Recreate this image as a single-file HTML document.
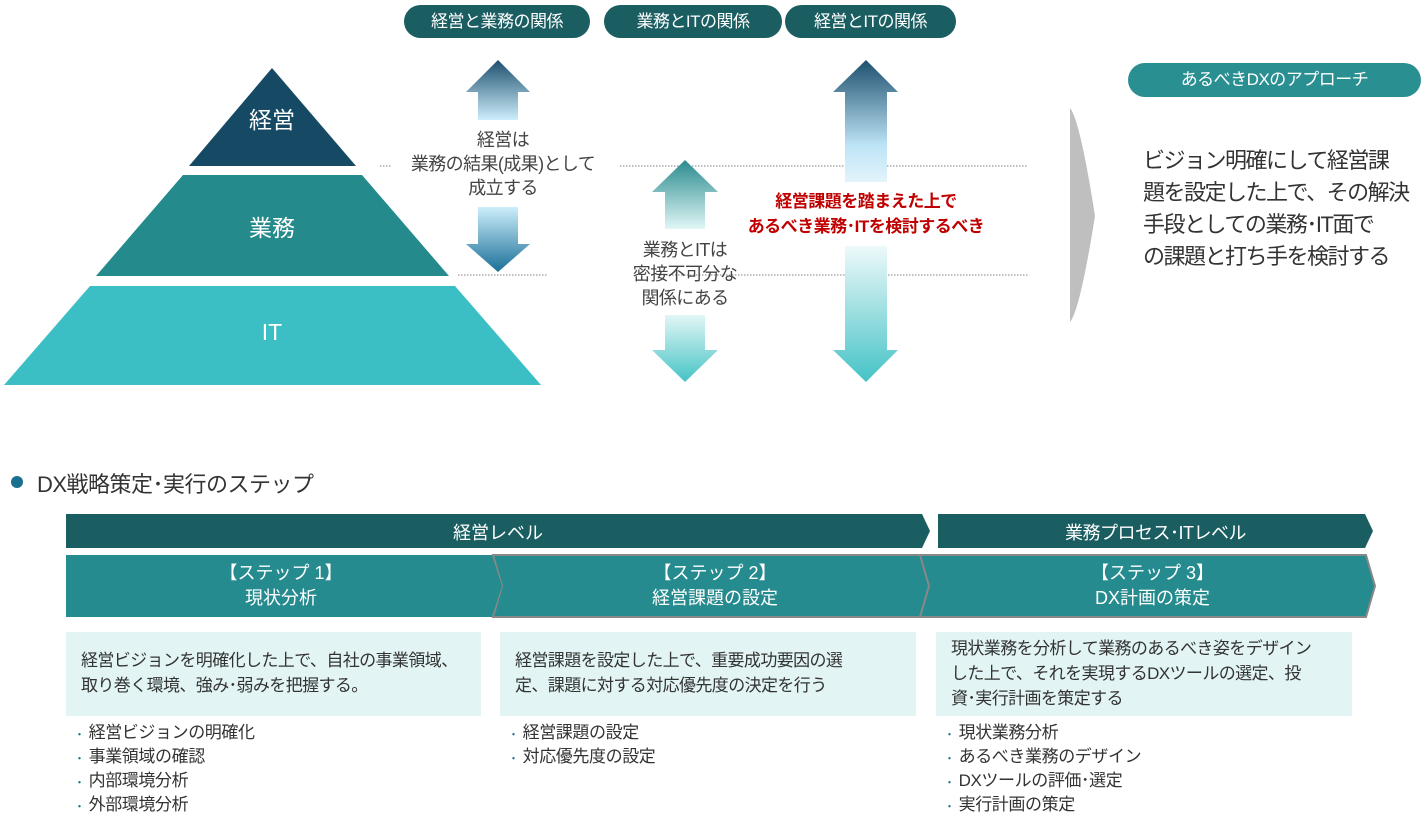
<!DOCTYPE html>
<html><head><meta charset="utf-8"><style>
body{margin:0;width:1425px;height:818px;background:#fff;position:relative;overflow:hidden;font-family:"Liberation Sans","Noto Sans CJK JP",sans-serif;color:#333}
.a{position:absolute;white-space:nowrap}
.pill{position:absolute;background:#1b5e62;color:#fff;border-radius:17px;text-align:center;font-size:17px;letter-spacing:-0.5px}
.box{position:absolute;background:#e2f5f4;font-size:17px;line-height:25px;color:#333;letter-spacing:-0.6px;white-space:nowrap}
ul{position:absolute;margin:0;padding:0;list-style:none;font-size:17px;line-height:24px;letter-spacing:-0.4px}
li{height:24px;overflow:visible}
li:before{content:"・";color:#1a6e8f;font-size:11px;margin-right:4px;margin-left:-2px}
</style></head><body>
<svg width="1425" height="818" style="position:absolute;left:0;top:0">
<defs>
<linearGradient id="g1" x1="0" y1="0" x2="0" y2="1"><stop offset="0" stop-color="#1d4f6e"/><stop offset="1" stop-color="#cdeefb"/></linearGradient>
<linearGradient id="g1d" x1="0" y1="0" x2="0" y2="1"><stop offset="0" stop-color="#cdeefb"/><stop offset="1" stop-color="#1a6f98"/></linearGradient>
<linearGradient id="g2" x1="0" y1="0" x2="0" y2="1"><stop offset="0" stop-color="#2a8b8e"/><stop offset="1" stop-color="#e2f6f6"/></linearGradient>
<linearGradient id="g2d" x1="0" y1="0" x2="0" y2="1"><stop offset="0" stop-color="#e2f6f6"/><stop offset="1" stop-color="#45c3c6"/></linearGradient>
<linearGradient id="g3" x1="0" y1="0" x2="0" y2="1"><stop offset="0" stop-color="#1d4f6e"/><stop offset="0.7" stop-color="#bde4f6"/><stop offset="1" stop-color="#e3f3fb"/></linearGradient>
<linearGradient id="g3d" x1="0" y1="0" x2="0" y2="1"><stop offset="0" stop-color="#eef9fa"/><stop offset="1" stop-color="#45c3c6"/></linearGradient>
</defs>
<polygon points="272,68 356,166 189,166" fill="#164a64"/>
<polygon points="183,175 362,175 449,276 96,276" fill="#248a8c"/>
<polygon points="90,286 455,286 541,385 4,385" fill="#3bbfc5"/>
<g stroke="#999" stroke-width="1.3" stroke-dasharray="1.5,1.5">
<line x1="380" y1="166" x2="392" y2="166"/><line x1="620" y1="166" x2="1028" y2="166"/>
<line x1="458" y1="275" x2="548" y2="275"/><line x1="660" y1="275" x2="1028" y2="275"/>
</g>
<polygon points="498,60 530,92 518,92 518,120 478,120 478,92 466,92" fill="url(#g1)"/>
<polygon points="478,207 518,207 518,244 530,244 498,272 466,244 478,244" fill="url(#g1d)"/>
<polygon points="685,160 718,192 705,192 705,229 665,229 665,192 652,192" fill="url(#g2)"/>
<polygon points="665,315 705,315 705,350 718,350 685,382 652,350 665,350" fill="url(#g2d)"/>
<polygon points="866,60 898,92 887,92 887,182 845,182 845,92 833,92" fill="url(#g3)"/>
<polygon points="845,246 887,246 887,350 898,350 866,382 833,350 845,350" fill="url(#g3d)"/>
<path d="M1070,108 Q1080,120 1095,216 Q1080,310 1070,322 Z" fill="#bfbfbf"/>
<circle cx="17" cy="482" r="6" fill="#1a6e8f"/>
<polygon points="66,514 922,514 930,531 922,548 66,548" fill="#1b5e62"/>
<polygon points="938,514 1365,514 1373,531 1365,548 938,548" fill="#1b5e62"/>
<polygon points="493,555 922,555 930,586 922,617 493,617 502,586" fill="#268b8e" stroke="#888" stroke-width="2"/>
<polygon points="920,555 1366,555 1375,586 1366,617 920,617 929,586" fill="#268b8e" stroke="#888" stroke-width="2"/>
<polygon points="66,555 492,555 502,586 492,617 66,617" fill="#268b8e"/>
</svg>
<div class="pill" style="left:404px;top:5px;width:186px;height:33px;line-height:33px">経営と業務の関係</div>
<div class="pill" style="left:604px;top:5px;width:178px;height:33px;line-height:33px">業務とITの関係</div>
<div class="pill" style="left:785px;top:5px;width:171px;height:33px;line-height:33px">経営とITの関係</div>
<div class="a" style="left:222px;top:101px;width:100px;text-align:center;color:#fff;font-size:23px">経営</div>
<div class="a" style="left:222px;top:209px;width:100px;text-align:center;color:#fff;font-size:23px">業務</div>
<div class="a" style="left:222px;top:319px;width:100px;text-align:center;color:#fff;font-size:23px">IT</div>
<div class="a" style="left:398px;top:128px;width:210px;text-align:center;font-size:18px;line-height:24px;color:#444;letter-spacing:-0.6px">経営は<br>業務の結果(成果)として<br>成立する</div>
<div class="a" style="left:600px;top:238px;width:170px;text-align:center;font-size:18px;line-height:24px;color:#444;letter-spacing:-0.6px">業務とITは<br>密接不可分な<br>関係にある</div>
<div class="a" style="left:720px;top:189px;width:292px;text-align:center;font-size:17px;line-height:25px;color:#c00000;font-weight:bold;letter-spacing:-0.5px">経営課題を踏まえた上で<br>あるべき業務･ITを検討するべき</div>
<div class="pill" style="left:1128px;top:63px;width:293px;height:34px;line-height:34px;background:#2a8f91">あるべきDXのアプローチ</div>
<div class="a" style="left:1143px;top:145px;font-size:22px;line-height:32px;color:#333;letter-spacing:-1.5px">ビジョン明確にして経営課<br>題を設定した上で、その解決<br>手段としての業務･IT面で<br>の課題と打ち手を検討する</div>
<div class="a" style="left:37px;top:467px;font-size:22px;color:#333;letter-spacing:-0.5px">DX戦略策定･実行のステップ</div>
<div class="a" style="left:66px;top:519px;width:864px;text-align:center;color:#fff;font-size:18px">経営レベル</div>
<div class="a" style="left:938px;top:519px;width:435px;text-align:center;color:#fff;font-size:18px;letter-spacing:-0.5px">業務プロセス･ITレベル</div>
<div class="a" style="left:66px;top:561px;width:430px;text-align:center;color:#fff;font-size:18px;line-height:25px">【ステップ 1】<br>現状分析</div>
<div class="a" style="left:500px;top:561px;width:430px;text-align:center;color:#fff;font-size:18px;line-height:25px">【ステップ 2】<br>経営課題の設定</div>
<div class="a" style="left:930px;top:561px;width:445px;text-align:center;color:#fff;font-size:18px;line-height:25px">【ステップ 3】<br>DX計画の策定</div>
<div class="box" style="left:66px;top:632px;width:400px;height:58px;padding:16px 0 10px 15px">経営ビジョンを明確化した上で、自社の事業領域、<br>取り巻く環境、強み･弱みを把握する。</div>
<div class="box" style="left:500px;top:632px;width:401px;height:58px;padding:16px 0 10px 15px">経営課題を設定した上で、重要成功要因の選<br>定、課題に対する対応優先度の決定を行う</div>
<div class="box" style="left:936px;top:632px;width:401px;height:74px;padding:4px 0 6px 15px">現状業務を分析して業務のあるべき姿をデザイン<br>した上で、それを実現するDXツールの選定、投<br>資･実行計画を策定する</div>
<ul style="left:76px;top:721px"><li>経営ビジョンの明確化</li><li>事業領域の確認</li><li>内部環境分析</li><li>外部環境分析</li></ul>
<ul style="left:510px;top:721px"><li>経営課題の設定</li><li>対応優先度の設定</li></ul>
<ul style="left:946px;top:721px"><li>現状業務分析</li><li>あるべき業務のデザイン</li><li>DXツールの評価･選定</li><li>実行計画の策定</li></ul>
</body></html>
